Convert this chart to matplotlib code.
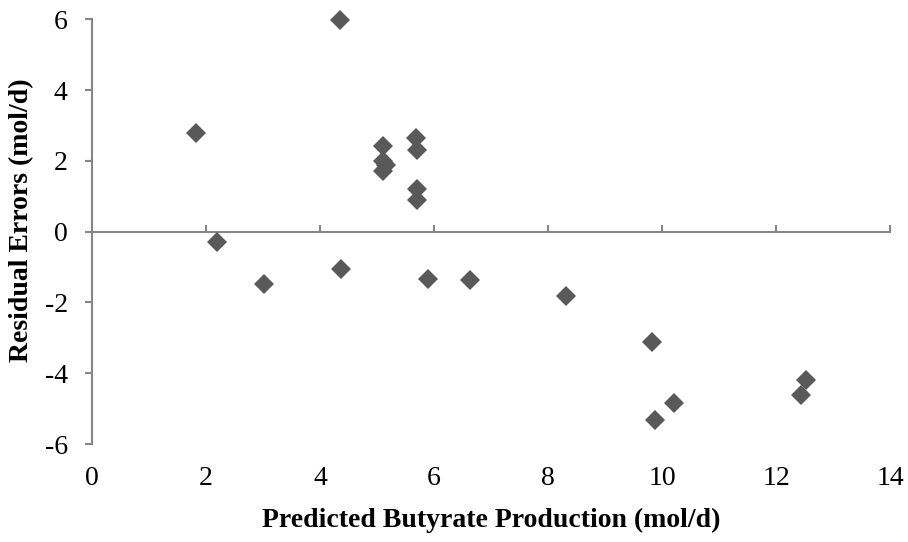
import matplotlib.pyplot as plt

# predicted butyrate production vs residual errors (mol/d)
predicted = [1.82, 4.35, 2.19, 3.02, 4.36,
             5.10, 5.10, 5.16, 5.10,
             5.68, 5.71, 5.70, 5.70,
             5.90, 6.63, 8.32, 9.82, 10.21, 9.88, 12.52, 12.44]
residual = [2.80, 5.97, -0.28, -1.47, -1.05,
            2.41, 1.99, 1.89, 1.70,
            2.65, 2.30, 1.21, 0.90,
            -1.34, -1.37, -1.83, -3.13, -4.84, -5.31, -4.20, -4.61]

xticks = [0, 2, 4, 6, 8, 10, 12, 14]
yticks = [-6, -4, -2, 0, 2, 4, 6]

plt.rcParams['font.family'] = ['Liberation Serif', 'DejaVu Serif']
plt.rcParams['axes.unicode_minus'] = False
axis_col = '#868686'

fig = plt.figure(figsize=(9.08, 5.42), dpi=100)
ax = fig.add_axes([0.1013, 0.1808, 0.8789, 0.7836])

ax.plot(predicted, residual, linestyle='none', marker='D', markersize=10,
        color='#595959', markeredgewidth=0, clip_on=False, zorder=3)

ax.set_xlim(0, 14)
ax.set_ylim(-6, 6)
ax.set_xticks(xticks)
ax.set_yticks(yticks)

for s in ['top', 'right', 'bottom']:
    ax.spines[s].set_visible(False)
ax.spines['left'].set_color(axis_col)
ax.spines['left'].set_linewidth(1.5)
ax.tick_params(axis='y', direction='out', length=5, width=1.5, color=axis_col,
               labelsize=20, pad=12.5)
# x labels stay at the bottom, tick marks go on the zero line
ax.tick_params(axis='x', length=0, labelsize=20, pad=16)

sec = ax.secondary_xaxis(0.5)
sec.set_xticks(xticks)
sec.set_xticklabels([])
for s in sec.spines.values():
    s.set_color(axis_col)
    s.set_linewidth(1.5)
sec.tick_params(direction='out', length=5, width=1.5, color=axis_col)

ax.set_xlabel('Predicted Butyrate Production (mol/d)', fontsize=20,
              fontweight='bold', labelpad=12)
ax.set_ylabel('Residual Errors (mol/d)', fontsize=20, fontweight='bold')
ax.yaxis.set_label_coords(-0.073, 0.527)

fig.savefig('out.png', dpi=100)
